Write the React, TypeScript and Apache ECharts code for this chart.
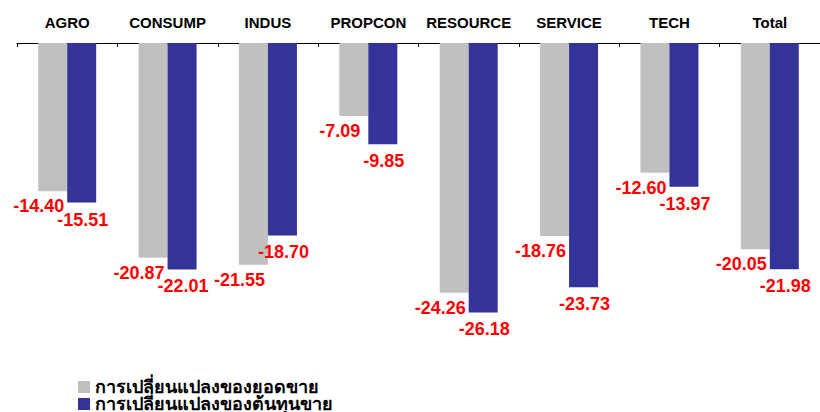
import React, { useEffect, useRef } from "react";
import * as echarts from "echarts";

const categories = ["AGRO", "CONSUMP", "INDUS", "PROPCON", "RESOURCE", "SERVICE", "TECH", "Total"];
const salesChange = [-14.4, -20.87, -21.55, -7.09, -24.26, -18.76, -12.6, -20.05];
const costChange = [-15.51, -22.01, -18.7, -9.85, -26.18, -23.73, -13.97, -21.98];
const seriesNames = ["การเปลี่ยนแปลงของยอดขาย", "การเปลี่ยนแปลงของต้นทุนขาย"];

export default function App() {
  const ref = useRef<HTMLDivElement>(null);
  useEffect(() => {
    if (!ref.current) return;
    const chart = echarts.init(ref.current, null, { renderer: "svg" });
    const font = "'Liberation Sans', Arial, sans-serif";
    const labelBase = {
      show: true,
      position: "bottom" as const,
      color: "#FF0000",
      fontWeight: "bold" as const,
      fontSize: 18,
      fontFamily: font,
      formatter: (p: any) => Number(p.value).toFixed(2),
    };
    const legendBase = {
      orient: "horizontal" as const,
      left: 78,
      padding: 0,
      itemWidth: 12,
      itemHeight: 12,
      icon: "rect",
      textStyle: {
        color: "#000",
        fontWeight: "bold" as const,
        fontSize: 18,
        lineHeight: 17,
        fontFamily: font,
      },
    };
    chart.setOption({
      animation: false,
      backgroundColor: "#ffffff",
      grid: { left: 17, top: 43, width: 811, height: 308.7, containLabel: false },
      legend: [
        { ...legendBase, top: 378, data: [seriesNames[0]] },
        { ...legendBase, top: 395, data: [seriesNames[1]] },
      ],
      xAxis: {
        type: "category",
        position: "top",
        data: categories,
        axisLine: { show: true, lineStyle: { color: "#000", width: 1 } },
        axisTick: { show: true, inside: true, length: 4, lineStyle: { color: "#000" } },
        axisLabel: {
          interval: 0,
          color: "#000",
          fontWeight: "bold",
          fontSize: 15,
          margin: 13,
          fontFamily: font,
        },
      },
      yAxis: {
        type: "value",
        min: -30,
        max: 0,
        show: false,
        splitLine: { show: false },
      },
      series: [
        {
          name: seriesNames[0],
          type: "bar",
          data: salesChange,
          barWidth: 29,
          barGap: "0%",
          itemStyle: { color: "#C0C0C0" },
          label: { ...labelBase, distance: 6, offset: [-14, 0] },
        },
        {
          name: seriesNames[1],
          type: "bar",
          data: costChange,
          barWidth: 29,
          barGap: "0%",
          itemStyle: { color: "#333399" },
          label: { ...labelBase, distance: 8, offset: [1, 0] },
        },
      ],
    });
    return () => chart.dispose();
  }, []);
  return (
    <div
      ref={ref}
      style={{ position: "absolute", left: 0, top: 0, width: 820, height: 412, background: "#fff" }}
    />
  );
}
